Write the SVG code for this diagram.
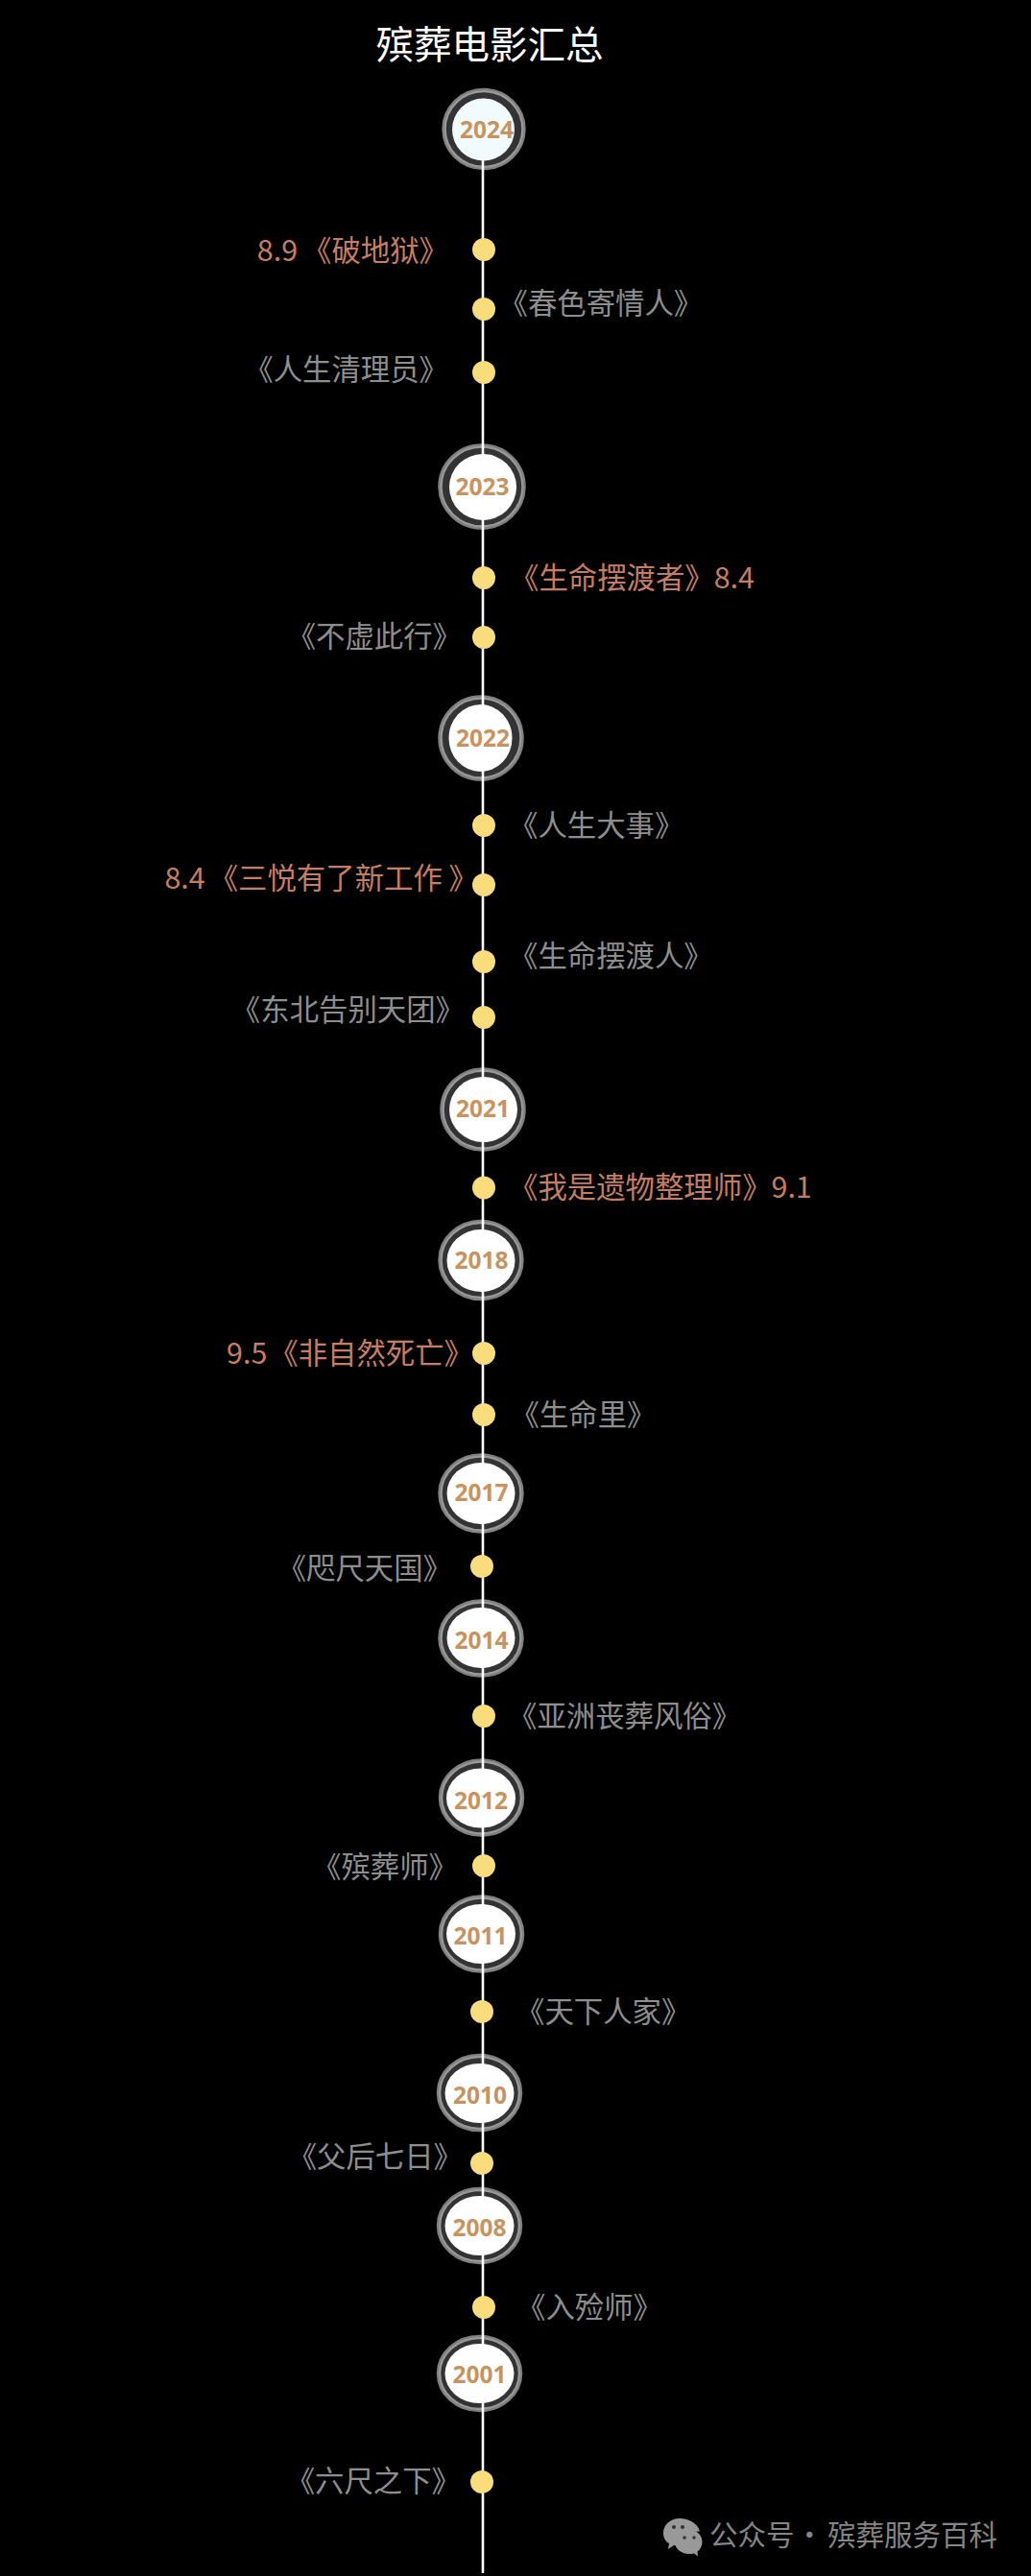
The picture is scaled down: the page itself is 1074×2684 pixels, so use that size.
<svg xmlns="http://www.w3.org/2000/svg" width="1074" height="2684" viewBox="0 0 1074 2684">
<style>
text{font-family:"Noto Sans CJK SC","Noto Sans",sans-serif;white-space:pre}
.title{font-size:39.5px;fill:#fff;text-anchor:middle}
.ring{fill:#fff;fill-opacity:.2;stroke:#fff;stroke-opacity:.5;stroke-width:4.5}
.core{fill:#fff}
.yr{font-family:"Noto Sans",sans-serif;font-size:24.5px;font-weight:700;fill:#c8935f;text-anchor:middle}
.dot{fill:#f9dc7c}
.g{font-size:30.4px;fill:#8e8e8e}
.r{font-size:30.4px;fill:#c67e62}
.e{text-anchor:end}
.wm{font-size:29.5px;fill:#858585}
.ic{fill:#999}
.eye{fill:#333}
</style>
<rect width="1074" height="2684" fill="#000"/>
<text class="title" x="510" y="61">殡葬电影汇总</text>
<g id="connectors"><line x1="503" y1="165" x2="503" y2="2681" stroke="#fff" stroke-width="2.6"/></g>
<g id="y2024"><ellipse class="ring" cx="504" cy="134.500" rx="41.500" ry="40.500"/><circle class="core" cx="503.500" cy="135" r="32.500" style="fill:#f1fbfe"/><text class="yr" x="507" y="143.500">2024</text></g>
<g id="n1"><circle class="dot" cx="504" cy="260" r="12"/><text class="r e" x="467" y="272">8.9<tspan dx="5">《破地狱》</tspan></text></g>
<g id="n2"><circle class="dot" cx="504" cy="322" r="12"/><text class="g" x="519.500" y="327">《春色寄情人》</text></g>
<g id="n3"><circle class="dot" cx="504" cy="388" r="12"/><text class="g e" x="467" y="396">《人生清理员》</text></g>
<g id="y2023"><ellipse class="ring" cx="502" cy="507" rx="43.500" ry="42.500"/><ellipse class="core" cx="503" cy="507.500" rx="35" ry="34.500"/><text class="yr" x="502.500" y="515.500">2023</text></g>
<g id="n4"><circle class="dot" cx="504" cy="602" r="12"/><text class="r" x="531" y="613">《生命摆渡者》8.4</text></g>
<g id="n5"><circle class="dot" cx="504" cy="664" r="12"/><text class="g e" x="481" y="674">《不虚此行》</text></g>
<g id="y2022"><ellipse class="ring" cx="501" cy="769" rx="42.500" ry="42.500"/><ellipse class="core" cx="500.500" cy="769" rx="33" ry="35"/><text class="yr" x="503" y="778">2022</text></g>
<g id="n6"><circle class="dot" cx="504" cy="860" r="12"/><text class="g" x="530" y="871">《人生大事》</text></g>
<g id="n7"><circle class="dot" cx="504" cy="922" r="12"/><text class="r e" x="498" y="926">8.4<tspan dx="4">《三悦有了新工作 》</tspan></text></g>
<g id="n8"><circle class="dot" cx="504" cy="1002" r="12"/><text class="g" x="530" y="1007">《生命摆渡人》</text></g>
<g id="n9"><circle class="dot" cx="504" cy="1060" r="12"/><text class="g e" x="484" y="1063">《东北告别天团》</text></g>
<g id="y2021"><ellipse class="ring" cx="503" cy="1156" rx="42.500" ry="41.500"/><ellipse class="core" cx="503.500" cy="1156" rx="35.500" ry="34"/><text class="yr" x="503" y="1164">2021</text></g>
<g id="n10"><circle class="dot" cx="504" cy="1237.500" r="12"/><text class="r" x="530" y="1248">《我是遗物整理师》9.1</text></g>
<g id="y2018"><ellipse class="ring" cx="501" cy="1313" rx="42.500" ry="40"/><ellipse class="core" cx="501" cy="1313.500" rx="35.500" ry="32.500"/><text class="yr" x="501.500" y="1322">2018</text></g>
<g id="n11"><circle class="dot" cx="504" cy="1410" r="12"/><text class="r e" x="493" y="1421">9.5<tspan dx="2">《非自然死亡》</tspan></text></g>
<g id="n12"><circle class="dot" cx="504" cy="1474" r="12"/><text class="g" x="531.500" y="1485">《生命里》</text></g>
<g id="y2017"><ellipse class="ring" cx="501" cy="1556" rx="42.500" ry="39.500"/><ellipse class="core" cx="501" cy="1556" rx="35.500" ry="32"/><text class="yr" x="501.500" y="1564">2017</text></g>
<g id="n13"><circle class="dot" cx="502" cy="1632" r="12"/><text class="g e" x="471" y="1645">《咫尺天国》</text></g>
<g id="y2014"><ellipse class="ring" cx="501" cy="1707" rx="42.500" ry="38.500"/><ellipse class="core" cx="501" cy="1706.500" rx="35.500" ry="31.500"/><text class="yr" x="501.500" y="1718">2014</text></g>
<g id="n14"><circle class="dot" cx="504" cy="1788" r="12"/><text class="g" x="529" y="1799">《亚洲丧葬风俗》</text></g>
<g id="y2012"><ellipse class="ring" cx="501.500" cy="1873" rx="42.500" ry="38.500"/><ellipse class="core" cx="501" cy="1873.500" rx="36" ry="31"/><text class="yr" x="501" y="1884.500">2012</text></g>
<g id="n15"><circle class="dot" cx="504" cy="1944" r="12"/><text class="g e" x="477" y="1956">《殡葬师》</text></g>
<g id="y2011"><ellipse class="ring" cx="501.500" cy="2015" rx="42.500" ry="38.500"/><ellipse class="core" cx="501" cy="2015" rx="36" ry="31"/><text class="yr" x="500.500" y="2026">2011</text></g>
<g id="n16"><circle class="dot" cx="502" cy="2096" r="12"/><text class="g" x="537" y="2107">《天下人家》</text></g>
<g id="y2010"><ellipse class="ring" cx="499.500" cy="2180.500" rx="42.500" ry="38.500"/><ellipse class="core" cx="499.500" cy="2181" rx="36" ry="31"/><text class="yr" x="500" y="2192">2010</text></g>
<g id="n17"><circle class="dot" cx="502" cy="2254" r="12"/><text class="g e" x="482" y="2258">《父后七日》</text></g>
<g id="y2008"><ellipse class="ring" cx="499.500" cy="2319" rx="42.500" ry="38"/><ellipse class="core" cx="499.500" cy="2319" rx="36" ry="31"/><text class="yr" x="499.500" y="2330">2008</text></g>
<g id="n18"><circle class="dot" cx="504" cy="2404" r="12"/><text class="g" x="538" y="2415">《入殓师》</text></g>
<g id="y2001"><ellipse class="ring" cx="499.500" cy="2473" rx="42.500" ry="38"/><ellipse class="core" cx="499.500" cy="2473" rx="36" ry="31"/><text class="yr" x="499.500" y="2483">2001</text></g>
<g id="n19"><circle class="dot" cx="502" cy="2586" r="12"/><text class="g e" x="480" y="2596">《六尺之下》</text></g>
<g id="watermark">
<path class="ic" d="M708 2624c-10 0-17 7-17 15 0 5 2 9 6 11l-1 6 6-4c2 .5 4 .5 6 .5 1-9 8-15 21-15-2-8-11-13.500-21-13.500z"/>
<path class="ic" d="M718 2636c-9 0-15 6-15 12.500s6 12.500 15 12.500c2 0 3 0 5-.5l4 3-.5-5c3-2 5-6 5-10 0-6.500-5-12.500-13.500-12.500z"/>
<circle class="eye" cx="702" cy="2633" r="2"/><circle class="eye" cx="711" cy="2633" r="2"/><circle class="eye" cx="713" cy="2644" r="1.800"/><circle class="eye" cx="723" cy="2644" r="1.800"/>
<text class="wm" y="2652"><tspan x="739">公众号</tspan><tspan x="822"> · </tspan><tspan x="862">殡葬服务百科</tspan></text>
</g>
</svg>
